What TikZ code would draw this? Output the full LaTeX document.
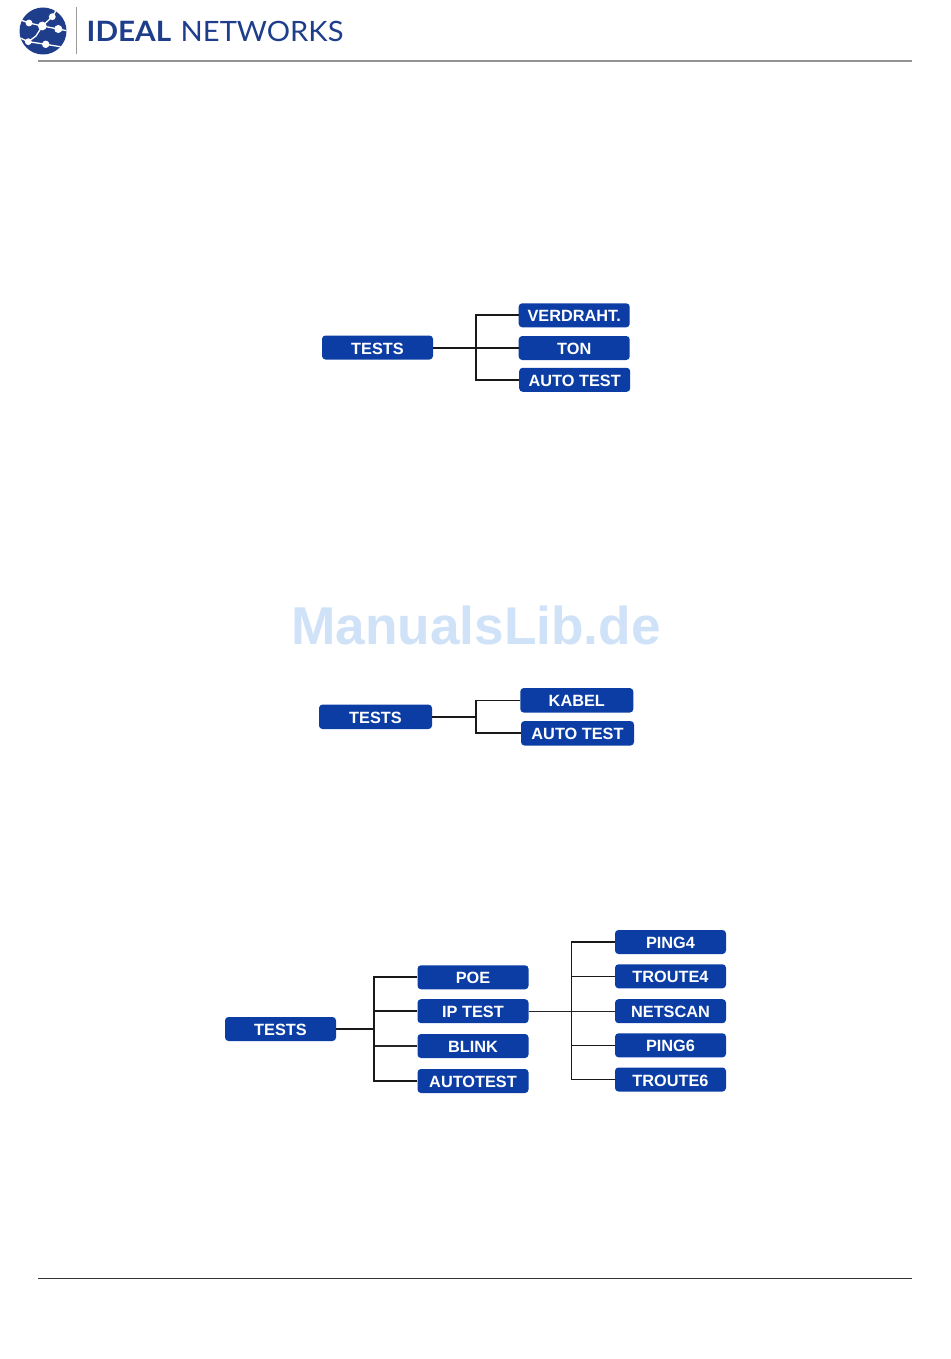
\documentclass[tikz,border=0pt]{standalone}
\usepackage{fontspec}
\setmainfont{Liberation Sans}
\newfontfamily\logofont{Lato}
\definecolor{boxblue}{HTML}{0B3DA5}
\definecolor{logoblue}{HTML}{1E3E8C}
\definecolor{markblue}{HTML}{D0E2F8}
\tikzset{
  menubox/.style={fill=boxblue,draw=none,rounded corners=3.5pt,inner sep=0pt,minimum width=111pt,minimum height=24pt,text height=13pt,text depth=0pt,text=white,font=\fontsize{16.3}{16}\selectfont\bfseries},
  conn/.style={draw=black!90,line width=1.7pt},
  mid conn/.style={draw=black!90,line width=1.5pt},
  thin conn/.style={draw=black!85,line width=1.1pt},
  netline/.style={draw=white,line width=1.3pt},
}
\begin{document}
\begin{tikzpicture}[x=1pt,y=-1pt]
\useasboundingbox (0,0) rectangle (950,1359);
\fill[white] (0,0) rectangle (950,1359);
% header
\fill[logoblue] (43,31) circle (23.5);
\begin{scope}
\clip (43,31) circle (23.5);
\draw[netline] (18,19) -- (29,23) -- (42.3,26) -- (52.3,16.7) -- (57,9);
\draw[netline] (42.3,26) -- (58.3,29) -- (68,31);
\draw[netline] (42.3,26) -- (36,36) -- (28.3,41.7) -- (45.7,44.3) -- (68,48);
\draw[netline] (28.3,41.7) -- (18,37);
\end{scope}
\foreach \p/\r in {{(29,23)}/3.4,{(42.3,26)}/4.4,{(52.3,16.7)}/3.4,{(58.3,29)}/4,{(28.3,41.7)}/3.4,{(45.7,44.3)}/3.7}
  \fill[white] \p circle (\r);
\draw[gray!80,line width=1pt] (76,7) -- (76,54);
\node[anchor=base west,inner sep=0pt,text=logoblue,xscale=1.06,font=\logofont\fontsize{28}{28}\selectfont\bfseries] (ideal) at (86.5,41.5) {IDEAL};
\node[anchor=base west,inner sep=0pt,text=logoblue,xscale=1.04,font=\logofont\fontsize{28}{28}\selectfont] (net) at (180.5,41.5) {NETWORKS};
\draw[gray!85,line width=1.2pt] (38,61) -- (912,61);
\draw[black!80,line width=1pt] (38,1278) -- (912,1278);
% watermark
\node[text=markblue,inner sep=0pt,anchor=base,font=\fontsize{53.2}{53}\selectfont\bfseries] (mark) at (476,644) {ManualsLib.de};
% first tree
\node[menubox] (a0) at (377.5,347.5) {TESTS};
\node[menubox] (a1) at (574.2,315.3) {VERDRAHT.};
\node[menubox] (a2) at (574.2,348) {TON};
\node[menubox] (a3) at (574.7,379.8) {AUTO TEST};
\coordinate (as) at (476,347.7);
\draw[conn] (a0.east |- as) -- (a2.west |- as);
\draw[conn] (a1.west) -| (as);
\draw[conn] (a3.west) -| (as);
% second tree
\node[menubox,minimum width=113pt,minimum height=24.5pt] (b0) at (375.5,716.8) {TESTS};
\node[menubox,minimum width=113pt,minimum height=24.5pt] (b1) at (576.8,700.3) {KABEL};
\node[menubox,minimum width=113pt,minimum height=24.5pt] (b2) at (577.5,733.3) {AUTO TEST};
\coordinate (bs) at (476,716.8);
\draw[mid conn] (b0.east) -- (bs);
\draw[mid conn] (b1.west) -| (bs);
\draw[conn,line width=2pt] (b2.west) -| (bs);
% third tree
\node[menubox] (c0) at (280.5,1029) {TESTS};
\node[menubox] (c1) at (473,977.3) {POE};
\node[menubox] (c2) at (473,1011.2) {IP TEST};
\node[menubox] (c3) at (473,1046) {BLINK};
\node[menubox] (c4) at (473,1081) {AUTOTEST};
\node[menubox] (d1) at (670.5,942) {PING4};
\node[menubox] (d2) at (670.5,976.3) {TROUTE4};
\node[menubox] (d3) at (670.5,1011.2) {NETSCAN};
\node[menubox] (d4) at (670.5,1045.3) {PING6};
\node[menubox] (d5) at (670.5,1079.5) {TROUTE6};
\coordinate (cs) at (374,1029);
\coordinate (ds) at (571.5,1011.2);
\draw[conn] (c0.east) -- (cs);
\draw[conn] (c1.west) -| (cs);
\draw[conn] (c2.west) -- (c2.west -| cs);
\draw[thin conn] (c3.west) -- (c3.west -| cs);
\draw[conn] (c4.west) -| (cs);
\draw[thin conn] (c2.east) -- (d3.west);
\draw[mid conn] (d1.west) -| (ds);
\draw[mid conn] (d2.west) -- (d2.west -| ds);
\draw[mid conn] (d4.west) -- (d4.west -| ds);
\draw[mid conn] (d5.west) -| (ds);
\end{tikzpicture}
\end{document}
